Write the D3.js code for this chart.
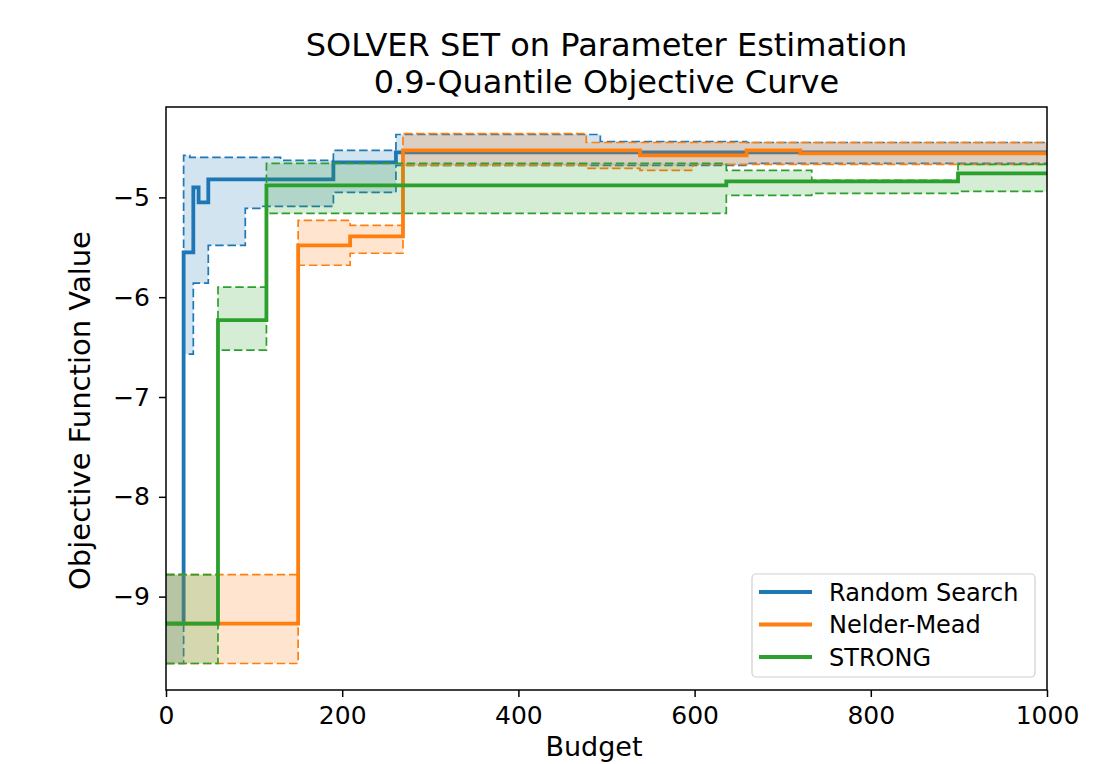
<!DOCTYPE html>
<html>
<head>
<meta charset="utf-8">
<script src="https://cdn.jsdelivr.net/npm/d3@7"></script>
<style>
  body { margin: 0; background: #fff; }
  text { font-family: "DejaVu Sans", sans-serif; fill: #000; }
</style>
</head>
<body>
<div id="chart"></div>
<script>
// values (step curves, "post" style)
const solverNames = ['Random Search', 'Nelder-Mead', 'STRONG'];
const solverColours = ['#1f77b4', '#ff7f0e', '#2ca02c'];

const rsBudget = [0, 20, 27, 31, 37, 48, 90, 110, 130, 190, 261, 493, 659, 1000];
const rsMedian = [-9.27, -5.55, -5.55, -4.90, -5.05, -4.82, -4.82, -4.82, -4.82, -4.65, -4.55, -4.55, -4.55, -4.55];
const rsUpper  = [-8.78, -4.58, -4.60, -4.60, -4.60, -4.60, -4.60, -4.60, -4.63, -4.53, -4.37, -4.44, -4.45, -4.45];
const rsLower  = [-9.67, -6.57, -6.57, -5.86, -5.86, -5.48, -5.11, -5.09, -5.09, -4.95, -4.68, -4.68, -4.66, -4.66];

const nmBudget = [0, 150, 209, 269, 477, 538, 598, 659, 720, 1000];
const nmMedian = [-9.27, -5.48, -5.39, -4.53, -4.53, -4.58, -4.58, -4.53, -4.56, -4.56];
const nmUpper  = [-8.78, -5.23, -5.28, -4.36, -4.45, -4.45, -4.45, -4.45, -4.45, -4.45];
const nmLower  = [-9.67, -5.68, -5.56, -4.68, -4.71, -4.73, -4.67, -4.67, -4.67, -4.67];

const stBudget = [0, 59, 114, 636, 733, 899, 1000];
const stMedian = [-9.27, -6.23, -4.88, -4.84, -4.84, -4.76, -4.76];
const stUpper  = [-8.78, -5.90, -4.66, -4.73, -4.83, -4.67, -4.67];
const stLower  = [-9.67, -6.53, -5.16, -4.98, -4.96, -4.94, -4.94];

const xTicks = [0, 200, 400, 600, 800, 1000];
const yTicks = [-9, -8, -7, -6, -5];

function createChart() {
    const width = 1106;
    const height = 764;
    const left = 166, right = 1047, top = 107, bottom = 690;

    const series = [
        {budget: rsBudget, median: rsMedian, upper: rsUpper, lower: rsLower},
        {budget: nmBudget, median: nmMedian, upper: nmUpper, lower: nmLower},
        {budget: stBudget, median: stMedian, upper: stUpper, lower: stLower}
    ];

    const xScale = d3.scaleLinear()
        .domain([0, 1000])
        .range([left, right]);

    // matplotlib style 5% margin round the data
    const allVals = series.flatMap(s => s.upper.concat(s.lower));
    const yMin = d3.min(allVals), yMax = d3.max(allVals);
    const pad = (yMax - yMin) * 0.05;
    const yScale = d3.scaleLinear()
        .domain([yMin - pad, yMax + pad])
        .range([bottom, top]);

    const svg = d3.select('#chart')
        .append('svg')
            .attr('width', width)
            .attr('height', height);

    svg.append('rect')
        .attr('width', width)
        .attr('height', height)
        .attr('fill', '#fff');

    const line = (key) => d3.line()
        .x(d => xScale(d.b))
        .y(d => yScale(d[key]))
        .curve(d3.curveStepAfter);

    const area = d3.area()
        .x(d => xScale(d.b))
        .y0(d => yScale(d.lower))
        .y1(d => yScale(d.upper))
        .curve(d3.curveStepAfter);

    const plot = svg.append('g');

    series.forEach((s, k) => {
        const pts = s.budget.map((b, i) => ({b: b, median: s.median[i], upper: s.upper[i], lower: s.lower[i]}));
        const col = solverColours[k];

        plot.append('path')
            .datum(pts)
            .attr('d', line('median'))
            .attr('fill', 'none')
            .attr('stroke', col)
            .attr('stroke-width', 3.8);

        plot.append('path')
            .datum(pts)
            .attr('d', area)
            .attr('fill', col)
            .attr('fill-opacity', 0.2);

        ['upper', 'lower'].forEach(key => {
            plot.append('path')
                .datum(pts)
                .attr('d', line(key))
                .attr('fill', 'none')
                .attr('stroke', col)
                .attr('stroke-width', 1.7)
                .attr('stroke-dasharray', '8.5,3.8');
        });
    });

    // axes
    const xAxis = svg.append('g')
        .attr('transform', `translate(0, ${bottom})`)
        .call(d3.axisBottom(xScale).tickValues(xTicks).tickSize(7).tickPadding(9).tickFormat(d3.format('d')));

    const yAxis = svg.append('g')
        .attr('transform', `translate(${left}, 0)`)
        .call(d3.axisLeft(yScale).tickValues(yTicks).tickSize(7).tickPadding(9).tickFormat(d3.format('d')));

    [xAxis, yAxis].forEach(ax => {
        ax.select('.domain').remove();
        ax.selectAll('line').attr('stroke', '#000').attr('stroke-width', 1.5);
        ax.selectAll('text').style('font-size', '25px').attr('fill', '#000');
    });

    // frame
    svg.append('rect')
        .attr('x', left)
        .attr('y', top)
        .attr('width', right - left)
        .attr('height', bottom - top)
        .attr('fill', 'none')
        .attr('stroke', '#000')
        .attr('stroke-width', 1.5);

    // titles
    svg.append('text')
        .attr('x', (left + right) / 2)
        .attr('y', 56)
        .attr('text-anchor', 'middle')
        .style('font-size', '32px')
        .text('SOLVER SET on Parameter Estimation');

    svg.append('text')
        .attr('x', (left + right) / 2)
        .attr('y', 93)
        .attr('text-anchor', 'middle')
        .style('font-size', '32px')
        .text('0.9-Quantile Objective Curve');

    svg.append('text')
        .attr('x', 594)
        .attr('y', 756)
        .attr('text-anchor', 'middle')
        .style('font-size', '27px')
        .text('Budget');

    svg.append('text')
        .attr('x', -(top + bottom) / 2 - 12)
        .attr('y', 90)
        .attr('transform', 'rotate(-90)')
        .attr('text-anchor', 'middle')
        .style('font-size', '29px')
        .text('Objective Function Value');

    // legend
    const legend = svg.append('g');
    legend.append('rect')
        .attr('x', 752)
        .attr('y', 574)
        .attr('width', 283)
        .attr('height', 103)
        .attr('rx', 4)
        .attr('fill', '#fff')
        .attr('fill-opacity', 0.8)
        .attr('stroke', '#d0d0d0')
        .attr('stroke-width', 1.2);

    solverNames.forEach((name, i) => {
        const y = 592 + i * 32.5;
        legend.append('line')
            .attr('x1', 759)
            .attr('x2', 812)
            .attr('y1', y)
            .attr('y2', y)
            .attr('stroke', solverColours[i])
            .attr('stroke-width', 3.8);
        legend.append('text')
            .attr('x', 829)
            .attr('y', y)
            .attr('dy', '0.36em')
            .style('font-size', '24px')
            .text(name);
    });
}

createChart();
</script>
</body>
</html>
